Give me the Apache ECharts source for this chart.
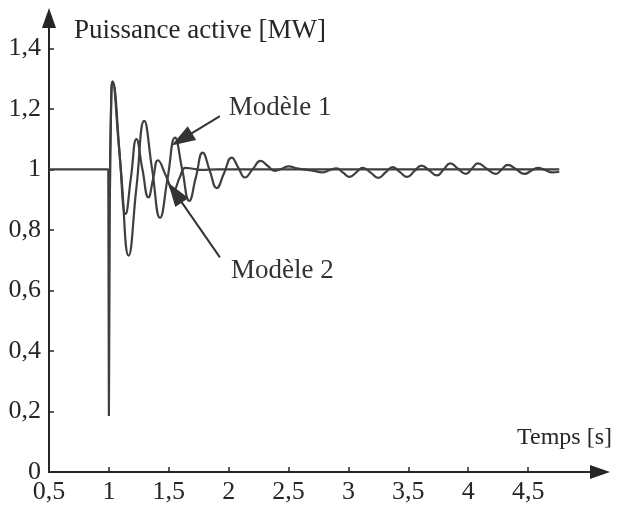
<!DOCTYPE html>
<html>
<head>
<meta charset="utf-8">
<script src="https://cdn.jsdelivr.net/npm/echarts@6/dist/echarts.min.js"></script>
<style>
  html, body { margin: 0; padding: 0; background: #fff; }
  #chart { width: 627px; height: 514px; }
</style>
</head>
<body>
<div id="chart"></div>
<script>
// Tick positions on both axes
const xTicks = [0.5, 1, 1.5, 2, 2.5, 3, 3.5, 4, 4.5];
const yTicks = [0, 0.2, 0.4, 0.6, 0.8, 1, 1.2, 1.4];

// Steady state, then the fault dip and the recovery edge (shared by both models)
const preFault = [[0.5, 1], [0.995, 1], [1.0, 0.185], [1.008, 0.9]];

// Active power after the fault, model 1 (slowly damped oscillation)
const model1 = [
  [1.008, 0.9], [1.018, 1.2], [1.03, 1.29], [1.1, 1.0], [1.165, 0.715], [1.23, 0.94],
  [1.295, 1.16], [1.361, 1.0], [1.427, 0.84], [1.49, 0.97], [1.552, 1.105], [1.612, 1.0],
  [1.671, 0.896], [1.727, 0.975], [1.783, 1.055], [1.842, 0.996], [1.9, 0.938], [1.962, 0.988],
  [2.025, 1.039], [2.08, 1.006], [2.136, 0.973], [2.2, 1.0], [2.267, 1.028], [2.327, 1.011],
  [2.386, 0.995], [2.443, 1.002], [2.5, 1.01], [2.57, 1.003], [2.64, 0.999], [2.71, 0.995],
  [2.78, 0.99], [2.84, 0.997], [2.9, 1.003], [2.955, 0.989], [3.01, 0.975], [3.065, 0.99],
  [3.12, 1.005], [3.185, 0.989], [3.25, 0.972], [3.31, 0.99], [3.37, 1.007], [3.43, 0.991],
  [3.49, 0.975], [3.55, 0.994], [3.61, 1.012], [3.675, 0.996], [3.74, 0.98], [3.795, 1.0],
  [3.85, 1.02], [3.915, 1.002], [3.98, 0.985], [4.03, 1.002], [4.08, 1.02], [4.155, 1.002],
  [4.23, 0.985], [4.28, 1.0], [4.33, 1.015], [4.4, 1.0], [4.47, 0.985], [4.525, 0.995],
  [4.58, 1.005], [4.64, 0.998], [4.7, 0.99], [4.76, 0.992]
];

// Active power after the fault, model 2 (fast damping)
const model2 = [
  [1.008, 0.9], [1.018, 1.2], [1.03, 1.29], [1.085, 1.07], [1.14, 0.853], [1.185, 0.976],
  [1.23, 1.1], [1.28, 1.0], [1.33, 0.907], [1.37, 0.97], [1.41, 1.03], [1.475, 0.98],
  [1.54, 0.93], [1.59, 0.972], [1.64, 1.005], [1.7, 1.002], [1.78, 0.998], [1.9, 1.0],
  [2.3, 1.0], [2.8, 1.0], [3.3, 1.0], [3.8, 1.0], [4.3, 1.0], [4.76, 1.0]
];

// Annotation anchors (data coordinates)
const label1At = [2.0, 1.203];
const label2At = [2.02, 0.666];
const arrow1 = [[1.927, 1.176], [1.608, 1.099]];
const arrow2 = [[1.927, 0.709], [1.552, 0.923]];

const FONT = 'Liberation Serif';
const INK = '#262626';
const LINE = '#3f3f3f';
const fmt = v => String(+v.toFixed(2)).replace('.', ',');

const chart = echarts.init(document.getElementById('chart'), null, { renderer: 'canvas' });

const lineStyle = { color: LINE, width: 2.2 };

chart.setOption({
  animation: false,
  backgroundColor: '#fff',
  grid: { left: 49, top: 18, right: 27, bottom: 42, containLabel: false },
  xAxis: {
    type: 'value',
    min: 0.5,
    max: 5.1,
    interval: 0.5,
    name: 'Temps [s]',
    nameLocation: 'end',
    nameGap: 12,
    nameTextStyle: { fontFamily: FONT, fontSize: 24, color: INK, align: 'right', verticalAlign: 'bottom', padding: [0, 0, 22, 0] },
    axisLine: { show: true, onZero: false, symbol: ['none', 'triangle'], symbolSize: [14, 20], lineStyle: { color: INK, width: 2 } },
    axisTick: { show: true, inside: true, length: 5, customValues: xTicks, lineStyle: { color: INK, width: 1.5 } },
    axisLabel: { customValues: xTicks, formatter: fmt, fontFamily: FONT, fontSize: 26, color: INK, margin: 7 },
    splitLine: { show: false }
  },
  yAxis: {
    type: 'value',
    min: 0,
    max: 1.5,
    interval: 0.2,
    name: 'Puissance active [MW]',
    nameLocation: 'end',
    nameGap: -13,
    nameTextStyle: { fontFamily: FONT, fontSize: 27, color: INK, align: 'left', verticalAlign: 'middle', padding: [0, 0, 0, 25] },
    axisLine: { show: true, onZero: false, symbol: ['none', 'triangle'], symbolSize: [14, 20], lineStyle: { color: INK, width: 2 } },
    axisTick: { show: true, inside: true, length: 5, customValues: yTicks, lineStyle: { color: INK, width: 1.5 } },
    axisLabel: { customValues: yTicks, formatter: fmt, fontFamily: FONT, fontSize: 26, color: INK, margin: 8 },
    splitLine: { show: false }
  },
  series: [
    {
      name: 'Avant défaut',
      type: 'line',
      data: preFault,
      showSymbol: false,
      lineStyle: lineStyle,
      z: 3
    },
    {
      name: 'Modèle 1',
      type: 'line',
      data: model1,
      showSymbol: false,
      smooth: 0.5,
      lineStyle: lineStyle,
      markLine: {
        silent: true,
        symbol: ['none', 'triangle'],
        symbolSize: [16, 24],
        lineStyle: { color: '#333', width: 2, type: 'solid' },
        label: { show: false },
        data: [[{ coord: arrow1[0] }, { coord: arrow1[1] }], [{ coord: arrow2[0] }, { coord: arrow2[1] }]]
      },
      markPoint: {
        silent: true,
        symbol: 'circle',
        symbolSize: 0,
        label: { show: true, position: 'right', distance: 0, fontFamily: FONT, fontSize: 27, color: '#333', formatter: p => p.name },
        data: [
          { name: 'Modèle 1', coord: label1At },
          { name: 'Modèle 2', coord: label2At }
        ]
      }
    },
    {
      name: 'Modèle 2',
      type: 'line',
      data: model2,
      showSymbol: false,
      smooth: 0.5,
      lineStyle: lineStyle
    }
  ]
});
</script>
</body>
</html>
